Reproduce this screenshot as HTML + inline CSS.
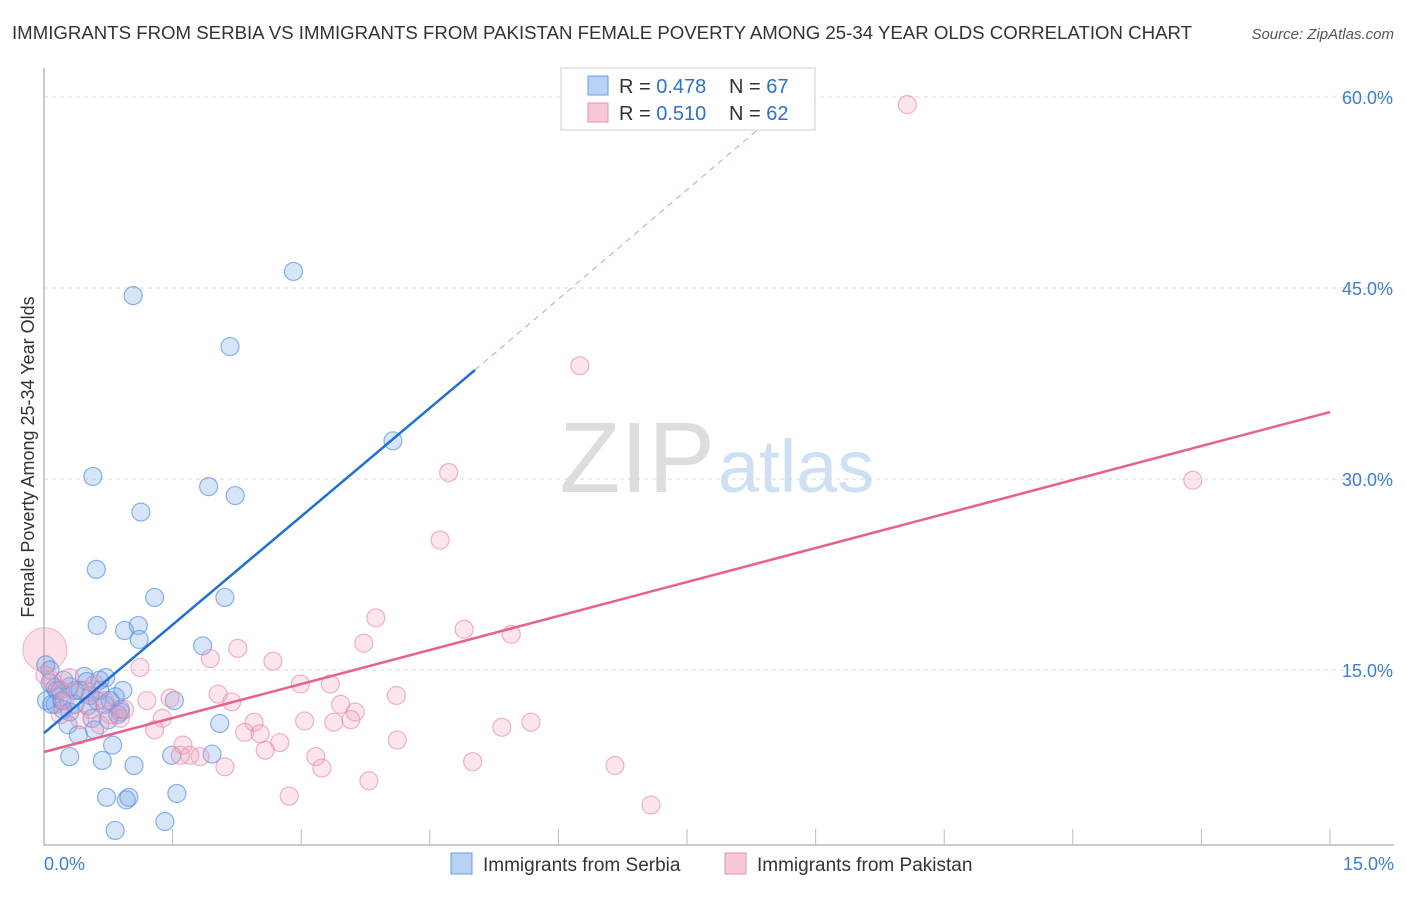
<!DOCTYPE html>
<html><head><meta charset="utf-8"><style>
body{margin:0;background:#fff;font-family:"Liberation Sans",sans-serif;}
svg text{font-family:"Liberation Sans",sans-serif;}
</style></head><body>
<svg id="c" width="1406" height="892">
<text x="12" y="39" font-size="18" fill="#333" textLength="1180" lengthAdjust="spacingAndGlyphs">IMMIGRANTS FROM SERBIA VS IMMIGRANTS FROM PAKISTAN FEMALE POVERTY AMONG 25-34 YEAR OLDS CORRELATION CHART</text>
<text x="1394" y="39" font-size="15" fill="#555" text-anchor="end" font-style="italic">Source: ZipAtlas.com</text>
<text x="0" y="0" font-size="18" fill="#333" text-anchor="middle" transform="translate(34,457) rotate(-90)">Female Poverty Among 25-34 Year Olds</text>
<text x="715" y="492" font-size="100" fill="#ddd" text-anchor="end" font-family="Liberation Serif">ZIP</text>
<text x="718" y="492" font-size="74" fill="#cfe0f4">atlas</text>
<g id="grid"></g><g id="pts"></g><g id="lines"></g>
<g>
<rect x="561" y="68" width="254" height="62" fill="#fff" stroke="#ccc"/>
<rect x="588" y="76" width="20" height="19" fill="#b8d2f3" stroke="#6a9be0"/>
<rect x="588" y="103" width="20" height="19" fill="#f8c8d6" stroke="#e98fad"/>
<text x="619" y="93" font-size="20" fill="#333">R = <tspan fill="#2f6fd0">0.478</tspan></text>
<text x="729" y="93" font-size="20" fill="#333">N = <tspan fill="#2f6fd0">67</tspan></text>
<text x="619" y="120" font-size="20" fill="#333">R = <tspan fill="#2f6fd0">0.510</tspan></text>
<text x="729" y="120" font-size="20" fill="#333">N = <tspan fill="#2f6fd0">62</tspan></text>
</g>
<rect x="451" y="853" width="21" height="21" fill="#b8d2f3" stroke="#6a9be0"/>
<text x="483" y="871" font-size="19" fill="#333">Immigrants from Serbia</text>
<rect x="725" y="853" width="21" height="21" fill="#f8c8d6" stroke="#e98fad"/>
<text x="757" y="871" font-size="19" fill="#333">Immigrants from Pakistan</text>
<text x="44" y="870" font-size="18" fill="#3b7dd8">0.0%</text>
<text x="1394" y="870" font-size="18" fill="#3b7dd8" text-anchor="end">15.0%</text>
</svg>
<script>
const yTicks=[15,30,45,60];
const yTickLabels=["15.0%","30.0%","45.0%","60.0%"];
const xTicks=[0,1.5,3,4.5,6,7.5,9,10.5,12,13.5,15];
const serbiaX=[2.91,1.04,2.17,4.07,0.57,1.92,2.23,1.13,0.61,1.29,2.11,0.62,0.94,1.10,1.11,1.85,0.02,0.07,0.13,0.19,0.30,0.47,0.50,0.65,0.72,0.92,0.83,0.62,0.13,0.22,0.30,0.36,0.51,0.71,0.89,1.52,0.28,0.40,0.89,0.75,0.56,0.80,0.30,0.68,1.05,1.49,1.96,2.05,0.73,0.96,0.99,1.55,0.83,1.41,0.07,0.15,0.03,0.42,0.54,0.09,0.21,0.86,0.65,0.36,0.23,0.77,0.59];
const serbiaY=[46.3,44.4,40.4,33.0,30.2,29.4,28.7,27.4,22.9,20.7,20.7,18.5,18.1,18.5,17.4,16.9,15.4,14.0,13.6,13.4,13.7,14.5,14.1,14.2,14.4,13.4,12.9,12.6,12.3,11.9,11.7,12.3,12.2,12.3,11.9,12.6,10.7,9.9,11.7,11.1,11.2,9.1,8.2,7.9,7.5,8.3,8.4,10.8,5.0,4.8,5.0,5.3,2.4,3.1,15.0,13.4,12.6,13.4,13.0,12.3,12.6,11.5,13.4,13.4,14.2,12.6,10.3];
const pakX=[10.07,6.25,4.72,13.40,4.62,3.87,4.90,5.45,3.73,2.26,1.94,2.67,1.12,0.01,0.09,0.19,0.30,0.48,0.59,2.99,3.34,4.11,2.03,2.19,1.47,1.20,1.38,0.89,3.46,3.63,3.04,3.38,3.58,5.68,5.34,2.45,2.34,1.62,2.52,2.75,2.58,1.29,1.82,1.70,1.59,2.11,3.17,3.24,4.12,5.00,3.79,6.66,2.86,7.08,0.77,0.94,0.65,0.54,0.71,0.24,0.42,0.19];
const pakY=[59.4,38.9,30.5,29.9,25.2,19.1,18.2,17.8,17.1,16.7,15.9,15.7,15.2,14.6,14.2,13.4,14.4,13.4,13.9,13.9,13.9,13.0,13.1,12.5,12.8,12.6,11.2,11.2,12.3,11.7,11.0,10.9,11.1,10.9,10.5,10.9,10.1,9.1,10.0,9.3,8.7,10.3,8.2,8.3,8.3,7.4,8.2,7.3,9.5,7.8,6.3,7.5,5.1,4.4,11.5,11.9,10.7,11.9,12.6,12.6,11.1,11.5];
const serbiaLine=[0,10.05,5.027,38.56,9.0,61.3];
const pakLine=[0,8.56,15,35.26];
const ns="http://www.w3.org/2000/svg";
const X=v=>44+v/15*1286, Y=v=>861-v/15*191;
function mk(t,a,p){const e=document.createElementNS(ns,t);for(const k in a)e.setAttribute(k,a[k]);p.appendChild(e);return e;}
const grid=document.getElementById('grid'),pts=document.getElementById('pts'),lines=document.getElementById('lines');
yTicks.forEach((t,i)=>{
 const l=mk('line',{x1:44,x2:1394,y1:Y(t),y2:Y(t),stroke:'#d8d8d8','stroke-dasharray':'4,4'},grid);
 
 
 const tx=mk('text',{x:1393,y:Y(t)+7,'font-size':18,fill:'#3b7dd8','text-anchor':'end'},grid);
 tx.textContent=yTickLabels[i];
 
 
});
xTicks.forEach(t=>{
 const l=mk('line',{x1:X(t),x2:X(t),y1:829,y2:845,stroke:'#bbb'},grid);
 
 
});
const ax=mk('path',{d:'M44,68 V845 H1394',fill:'none',stroke:'#bbb','stroke-width':1.5},grid);


const big=mk('circle',{cx:X(0.01),cy:Y(16.6),r:22,fill:'rgba(240,150,180,0.3)',stroke:'rgba(233,143,173,0.6)'},pts);


serbiaX.forEach((x,i)=>{
 const c=mk('circle',{cx:X(x),cy:Y(serbiaY[i]),r:9,fill:'rgba(110,160,235,0.28)',stroke:'rgba(80,140,225,0.65)','stroke-width':1.2},pts);
 
 
});
pakX.forEach((x,i)=>{
 const c=mk('circle',{cx:X(x),cy:Y(pakY[i]),r:9,fill:'rgba(245,160,185,0.28)',stroke:'rgba(233,130,165,0.6)','stroke-width':1.2},pts);
 
 
});
const b1=mk('line',{x1:X(serbiaLine[0]),y1:Y(serbiaLine[1]),x2:X(serbiaLine[2]),y2:Y(serbiaLine[3]),stroke:'#1f6fd6','stroke-width':2.5},lines);


const b2=mk('line',{x1:X(serbiaLine[2]),y1:Y(serbiaLine[3]),x2:X(serbiaLine[4]),y2:Y(serbiaLine[5]),stroke:'#8fb4e6','stroke-width':1,'stroke-dasharray':'6,5'},lines);


const p1=mk('line',{x1:X(pakLine[0]),y1:Y(pakLine[1]),x2:X(pakLine[2]),y2:Y(pakLine[3]),stroke:'#e8608e','stroke-width':2.5},lines);


</script>
</body></html>
